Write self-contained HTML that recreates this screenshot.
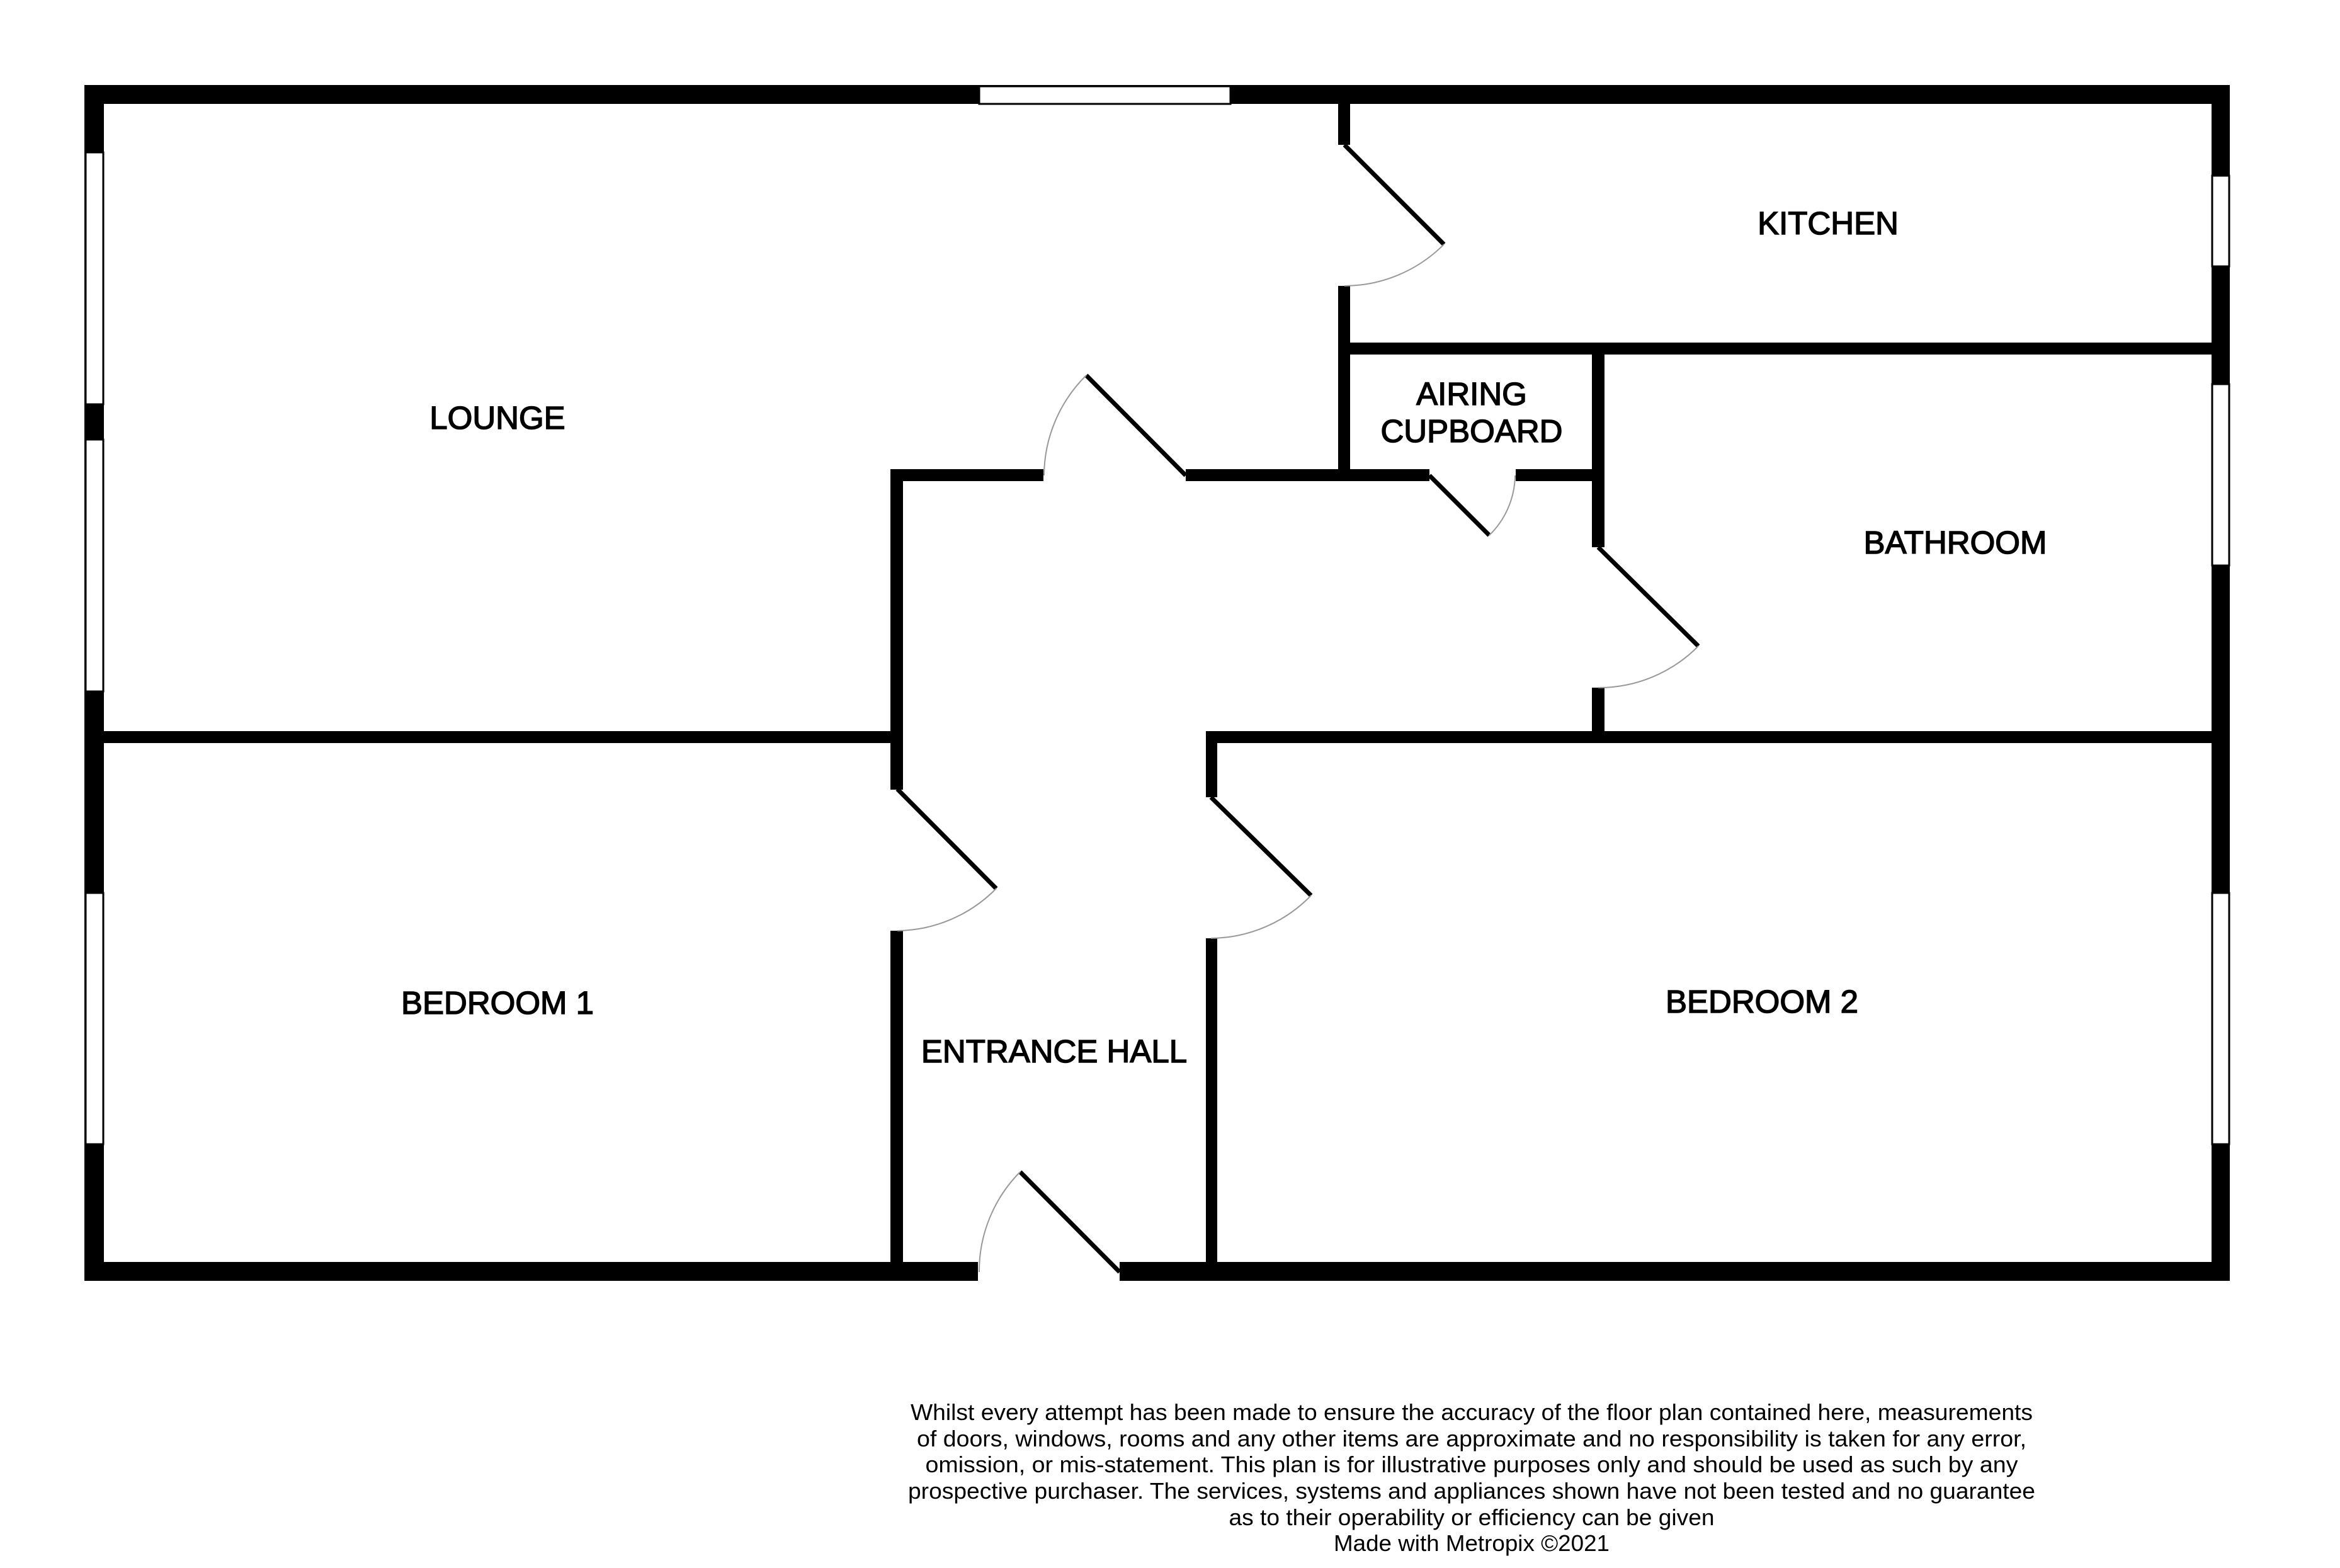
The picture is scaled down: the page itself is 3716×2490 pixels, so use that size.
<!DOCTYPE html>
<html><head><meta charset="utf-8"><style>
html,body{margin:0;padding:0;background:#fff;}
svg{display:block;}
.lbl{font-family:"Liberation Sans",Arial,sans-serif;font-size:51px;fill:#000;stroke:#000;stroke-width:1.5px;text-anchor:middle;}
.disc{font-family:"Liberation Sans",Arial,sans-serif;font-size:36px;fill:#000;text-anchor:middle;}
</style></head><body>
<svg width="3716" height="2490" viewBox="0 0 3716 2490" xmlns="http://www.w3.org/2000/svg">
<rect width="3716" height="2490" fill="#fff"/>
<g fill="#000">
<rect x="134" y="135" width="3407" height="30"/>
<rect x="134" y="2004" width="1419" height="30"/>
<rect x="1778" y="2004" width="1763" height="30"/>
<rect x="134" y="135" width="31" height="1899"/>
<rect x="3512" y="135" width="29" height="1899"/>
<rect x="165" y="1161" width="1269" height="19"/>
<rect x="1414" y="745" width="20" height="509"/>
<rect x="1414" y="1478" width="20" height="526"/>
<rect x="1414" y="745" width="243" height="19"/>
<rect x="1883" y="745" width="387" height="19"/>
<rect x="2407" y="745" width="141" height="19"/>
<rect x="2125" y="165" width="19" height="65"/>
<rect x="2125" y="454" width="19" height="310"/>
<rect x="2125" y="544" width="1387" height="19"/>
<rect x="2528" y="544" width="20" height="325"/>
<rect x="2528" y="1092" width="20" height="88"/>
<rect x="1915" y="1161" width="1597" height="19"/>
<rect x="1915" y="1161" width="18" height="105"/>
<rect x="1915" y="1490" width="18" height="514"/>
</g>
<g fill="#fff" stroke="#000" stroke-width="3">
<rect x="1555" y="137" width="399" height="28"/>
<rect x="136" y="242" width="28" height="400"/>
<rect x="136" y="698" width="28" height="400"/>
<rect x="136" y="1418" width="28" height="399"/>
<rect x="3513" y="279" width="27" height="144"/>
<rect x="3513" y="610" width="27" height="288"/>
<rect x="3513" y="1418" width="27" height="399"/>
</g>
<g stroke="#000" stroke-width="7" stroke-linecap="butt">
<line x1="2135" y1="230" x2="2293" y2="388"/>
<line x1="1883" y1="755" x2="1725" y2="596"/>
<line x1="2270" y1="755" x2="2365" y2="850"/>
<line x1="2538" y1="869" x2="2697" y2="1026"/>
<line x1="1425" y1="1253" x2="1582" y2="1411"/>
<line x1="1923" y1="1266" x2="2082" y2="1422"/>
<line x1="1778" y1="2020" x2="1620" y2="1861"/>
</g>
<g fill="none" stroke="#999" stroke-width="2">
<path d="M2293,388 A224,224 0 0 1 2135,454"/>
<path d="M1725,596 A225,225 0 0 0 1658,755"/>
<path d="M2365,850 A135,135 0 0 0 2406,755"/>
<path d="M2697,1026 A222,222 0 0 1 2538,1092"/>
<path d="M1582,1411 A224,224 0 0 1 1425,1478"/>
<path d="M2082,1422 A224,224 0 0 1 1923,1490"/>
<path d="M1620,1861 A224,224 0 0 0 1555,2020"/>
</g>
<text class="lbl" x="790" y="681">LOUNGE</text>
<text class="lbl" x="2903" y="372">KITCHEN</text>
<text class="lbl" x="2337" y="643">AIRING</text>
<text class="lbl" x="2337" y="702">CUPBOARD</text>
<text class="lbl" x="3105" y="879">BATHROOM</text>
<text class="lbl" x="790" y="1610">BEDROOM 1</text>
<text class="lbl" x="1674" y="1687">ENTRANCE HALL</text>
<text class="lbl" x="2798" y="1608">BEDROOM 2</text>
<text class="disc" x="2337" y="2255" textLength="1782" lengthAdjust="spacingAndGlyphs">Whilst every attempt has been made to ensure the accuracy of the floor plan contained here, measurements</text>
<text class="disc" x="2337" y="2297" textLength="1762" lengthAdjust="spacingAndGlyphs">of doors, windows, rooms and any other items are approximate and no responsibility is taken for any error,</text>
<text class="disc" x="2337" y="2338" textLength="1735" lengthAdjust="spacingAndGlyphs">omission, or mis-statement. This plan is for illustrative purposes only and should be used as such by any</text>
<text class="disc" x="2337" y="2380" textLength="1790" lengthAdjust="spacingAndGlyphs">prospective purchaser. The services, systems and appliances shown have not been tested and no guarantee</text>
<text class="disc" x="2337" y="2422" textLength="771" lengthAdjust="spacingAndGlyphs">as to their operability or efficiency can be given</text>
<text class="disc" x="2337" y="2463" textLength="438" lengthAdjust="spacingAndGlyphs">Made with Metropix ©2021</text>
</svg>
</body></html>
